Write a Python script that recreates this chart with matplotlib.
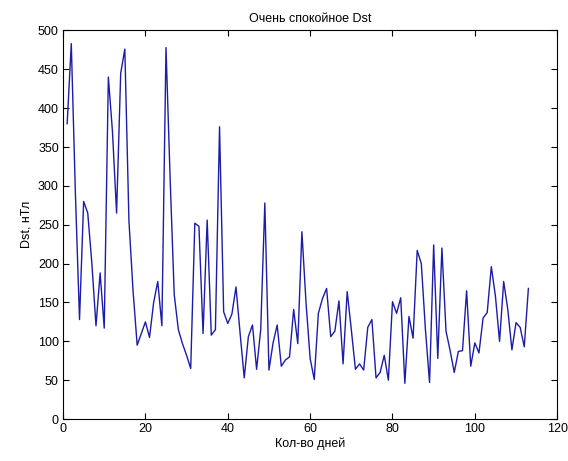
import numpy as np
import matplotlib
matplotlib.use('Agg')
import matplotlib.pyplot as plt

plt.rcParams['font.family'] = ['Liberation Sans', 'DejaVu Sans']

# Dst values, one per day
days = np.arange(1, 114)
dst = [380, 483, 290, 128, 280, 265, 200, 120, 188, 117,
       440, 370, 265, 445, 476, 255, 165, 95, 110, 125,
       105, 150, 177, 120, 478, 310, 160, 115, 97, 82,
       65, 252, 248, 110, 256, 108, 115, 376, 138, 123,
       135, 170, 110, 53, 106, 121, 64, 115, 278, 63,
       98, 121, 68, 76, 80, 141, 97, 241, 150, 78,
       51, 136, 155, 168, 106, 113, 152, 71, 164, 115,
       64, 71, 63, 118, 128, 53, 60, 82, 50, 151,
       136, 156, 46, 132, 104, 217, 200, 115, 47, 224,
       78, 220, 113, 88, 60, 87, 88, 165, 68, 98,
       85, 130, 137, 196, 158, 100, 177, 141, 89, 124,
       118, 93, 168]

title = 'Очень спокойное Dst'
xlab = 'Кол-во дней'
ylab = 'Dst, нТл'

fig = plt.figure(figsize=(5.68, 4.61), dpi=100)
ax = fig.add_axes([0.111, 0.091, 0.870, 0.843])
ax.plot(days, dst, color='#1c1ca8', lw=1.0)

ax.set_xlim(0, 120)
ax.set_ylim(0, 500)
ax.set_xticks(np.arange(0, 121, 20))
ax.set_yticks(np.arange(0, 501, 50))
ax.tick_params(direction='in', top=True, right=True, length=4,
               labelsize=9, width=0.8, pad=3)
for s in ax.spines.values():
    s.set_linewidth(0.8)

ax.set_title(title, fontsize=9, pad=6)
ax.set_xlabel(xlab, fontsize=9, labelpad=2)
ax.set_ylabel(ylab, fontsize=9, labelpad=4)

fig.savefig('out.png', dpi=100)
